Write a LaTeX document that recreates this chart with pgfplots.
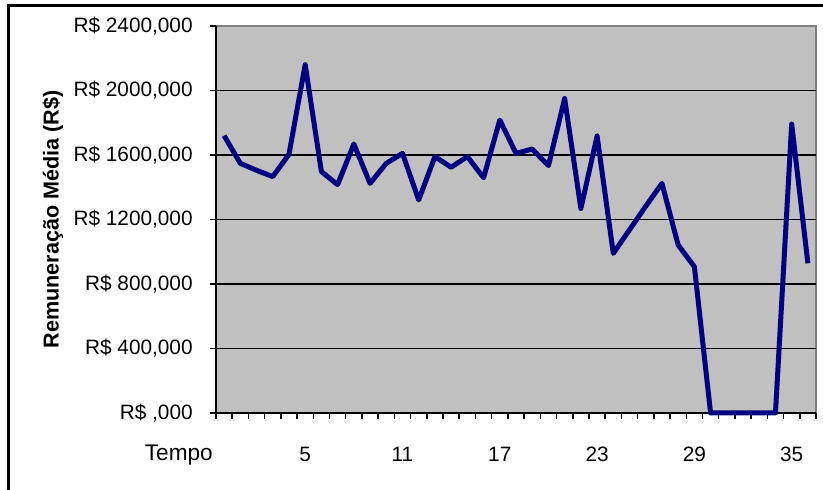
\documentclass[border=0pt]{standalone}
\usepackage{pgfplots}
\pgfplotsset{compat=1.18}
\usepackage{fontspec}
\setmainfont{Liberation Sans}
\definecolor{bggray}{HTML}{C0C0C0}
\definecolor{framegray}{HTML}{808080}
\definecolor{navyline}{HTML}{000080}
\begin{document}
\fontsize{10.4pt}{12pt}\selectfont
\begin{tikzpicture}
\useasboundingbox (-108pt,-38.5pt) rectangle (303.5pt,206.5pt);
\draw[line width=1.5pt] (-103.75pt,-40pt) -- (-103.75pt,203.5pt) -- (305pt,203.5pt);
\begin{axis}[
  at={(0pt,0pt)}, anchor=south west,
  scale only axis,
  width=300pt, height=193.5pt,
  xmin=-0.5, xmax=36.5,
  ymin=0, ymax=2400,
  axis lines*=left,
  axis line style={-, black, line width=1pt},
  axis background/.style={fill=bggray, draw=framegray, line width=1pt},
  tick align=outside,
  major tick length=3pt,
  tick style={black, line width=0.75pt},
  xtick={-0.5,0.5,...,36.5},
  xticklabels={},
  extra x ticks={5,11,17,23,29,35},
  extra x tick labels={5,11,17,23,29,35},
  extra x tick style={major tick length=0pt, xticklabel style={anchor=base, yshift=-24.5pt}},
  ytick={0,400,...,2400},
  yticklabels={{R\$ ,000},{R\$ 400,000},{R\$ 800,000},{R\$ 1200,000},{R\$ 1600,000},{R\$ 2000,000},{R\$ 2400,000}},
  yticklabel style={anchor=east, xshift=-5pt},
  extra y ticks={400,800,1200,1600,2000},
  extra y tick labels={},
  extra y tick style={major tick length=0pt, ymajorgrids=true, grid style={black, line width=0.8pt}},
  xlabel={\fontsize{11.3pt}{13pt}\selectfont Tempo},
  xlabel style={at={(axis description cs:-0.062,-0.124)}, anchor=base},
  ylabel={\fontsize{10.8pt}{12pt}\selectfont\bfseries Remuneração Média (R\$)},
  ylabel style={at={(axis description cs:-0.272,0.5)}, anchor=center, rotate=0},
  clip=false,
]
\addplot[navyline, line width=2.5pt, line join=round] coordinates {
(0,1720) (1,1548) (2,1505) (3,1466) (4,1604) (5,2160) (6,1497) (7,1416)
(8,1668) (9,1424) (10,1548) (11,1610) (12,1321) (13,1590) (14,1524) (15,1590)
(16,1459) (17,1817) (18,1610) (19,1637) (20,1534) (21,1950) (22,1268) (23,1718)
(24,990) (25,1136) (26,1282) (27,1424) (28,1042) (29,907) (30,0) (31,0)
(32,0) (33,0) (34,0) (35,1792) (36,928)
};
\end{axis}
\end{tikzpicture}
\end{document}
